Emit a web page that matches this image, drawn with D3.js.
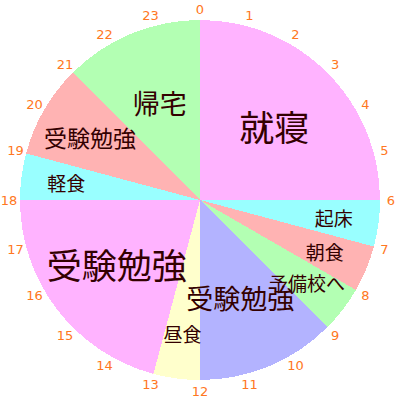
<!DOCTYPE html>
<html><head><meta charset="utf-8">
<script src="https://cdn.jsdelivr.net/npm/d3@7"></script>
<style>html,body{margin:0;padding:0;background:#fff;}</style>
</head><body>
<svg id="c" width="400" height="400"></svg>
<script>
const activities = ["就寝","起床","朝食","予備校へ","受験勉強","昼食","受験勉強","軽食","受験勉強","帰宅"];
const hours = [6,1,1,1,3,1,5,1,2,3];
const hourTicks = d3.range(0,24);
const palette = ["#ffb3ff","#99ffff","#ffb3b3","#b3ffb3","#b3b3ff","#ffffcc"];

const svg = d3.select("#c");
const cx = 200, cy = 200, R = 180;
const g = svg.append("g").attr("transform",`translate(${cx},${cy})`);
const color = d3.scaleOrdinal().domain(d3.range(palette.length)).range(palette);
const pie = d3.pie().sort(null).value(d=>d.h);
const data = activities.map((a,i)=>({a, h:hours[i], i}));
const arcs = pie(data);
const arc = d3.arc().innerRadius(0).outerRadius(R);
g.selectAll("path.s").data(arcs).join("path").attr("class","s")
  .attr("d",arc).attr("fill",d=>color(d.data.i % palette.length))
  .attr("shape-rendering","crispEdges");

const fs = d3.scaleLinear().domain([1,2,3,5]).range([19,23,27,35]).clamp(true);
const lr = d3.scaleLinear().domain([1,2,3]).range([135,127,105]).clamp(true);
g.selectAll("text.l").data(arcs).join("text").attr("class","l")
  .attr("transform",d=>{
    const a=(d.startAngle+d.endAngle)/2, r=lr(d.data.h);
    return `translate(${r*Math.sin(a)},${-r*Math.cos(a)})`;
  })
  .attr("text-anchor","middle").attr("dominant-baseline","central")
  .attr("font-family","'Noto Sans CJK JP'")
  .attr("font-size",d=>fs(d.data.h)).attr("fill","#330000")
  .text(d=>d.data.a);

const ha = d3.scaleLinear().domain([0,24]).range([0,2*Math.PI]);
g.selectAll("text.h").data(hourTicks).join("text").attr("class","h")
  .attr("x",d=>191*Math.sin(ha(d))).attr("y",d=>-191*Math.cos(ha(d)))
  .attr("text-anchor","middle").attr("dominant-baseline","central")
  .attr("font-family","'DejaVu Sans'").attr("font-size",13)
  .attr("fill","#ff7722").text(d=>d);
</script>
</body></html>
